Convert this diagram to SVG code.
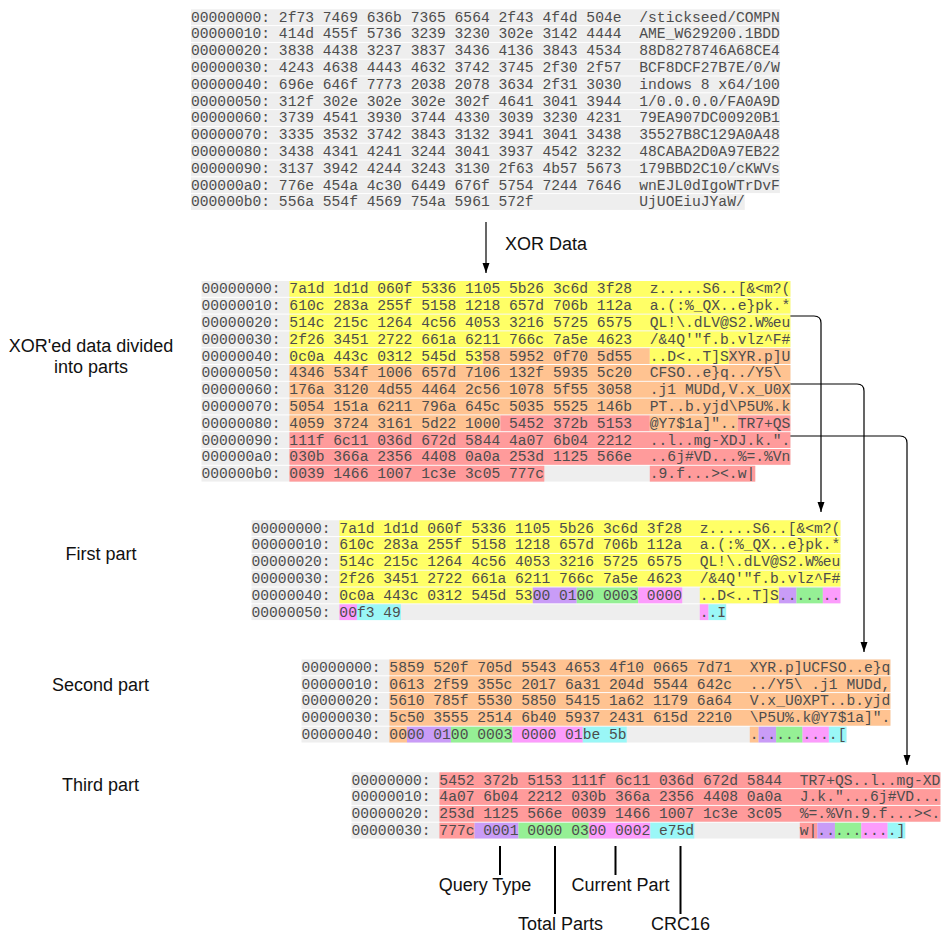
<svg xmlns="http://www.w3.org/2000/svg" width="951" height="937" viewBox="0 0 951 937">
<style>
.hx{font-family:"Liberation Mono","DejaVu Sans Mono",monospace;font-size:14.65px;fill:#4d4d4d}
.lb{font-family:"Liberation Sans",Arial,sans-serif;font-size:18px;fill:#111}
.gy{fill:#eeeeee}.y{fill:#ffff66}.o{fill:#ffc391}.r{fill:#ff9b9b}.p{fill:#c99cf7}.g{fill:#95f095}.k{fill:#fc9cfc}.c{fill:#9af7f7}
.cn{fill:none;stroke:#000;stroke-width:1.2}
.tk{fill:none;stroke:#000;stroke-width:2}
</style>
<defs>
<marker id="ah" viewBox="0 0 10 10" refX="10" refY="5" markerWidth="10" markerHeight="10" markerUnits="userSpaceOnUse" orient="auto">
<path d="M0,1.5 L10,5 L0,8.5 z" fill="#000"/>
</marker>
</defs>
<rect width="951" height="937" fill="#ffffff"/>

<g id="dump-original" transform="translate(191,9.3)">
<rect class="gy" x="0" y="0" width="588.93" height="15.8"/>
<rect class="gy" x="0" y="16.8" width="588.93" height="15.8"/>
<rect class="gy" x="0" y="33.6" width="588.93" height="15.8"/>
<rect class="gy" x="0" y="50.4" width="588.93" height="15.8"/>
<rect class="gy" x="0" y="67.2" width="588.93" height="15.8"/>
<rect class="gy" x="0" y="84" width="588.93" height="15.8"/>
<rect class="gy" x="0" y="100.8" width="588.93" height="15.8"/>
<rect class="gy" x="0" y="117.6" width="588.93" height="15.8"/>
<rect class="gy" x="0" y="134.4" width="588.93" height="15.8"/>
<rect class="gy" x="0" y="151.2" width="588.93" height="15.8"/>
<rect class="gy" x="0" y="168" width="588.93" height="15.8"/>
<rect class="gy" x="0" y="184.8" width="553.77" height="15.8"/>
<text class="hx" y="12.3"><tspan x="0">00000000: 2f73 7469 636b 7365 6564 2f43 4f4d 504e</tspan><tspan x="448.29">/stickseed/COMPN</tspan></text>
<text class="hx" y="29.1"><tspan x="0">00000010: 414d 455f 5736 3239 3230 302e 3142 4444</tspan><tspan x="448.29">AME_W629200.1BDD</tspan></text>
<text class="hx" y="45.9"><tspan x="0">00000020: 3838 4438 3237 3837 3436 4136 3843 4534</tspan><tspan x="448.29">88D8278746A68CE4</tspan></text>
<text class="hx" y="62.7"><tspan x="0">00000030: 4243 4638 4443 4632 3742 3745 2f30 2f57</tspan><tspan x="448.29">BCF8DCF27B7E/0/W</tspan></text>
<text class="hx" y="79.5"><tspan x="0">00000040: 696e 646f 7773 2038 2078 3634 2f31 3030</tspan><tspan x="448.29" xml:space="preserve">indows 8 x64/100</tspan></text>
<text class="hx" y="96.3"><tspan x="0">00000050: 312f 302e 302e 302e 302f 4641 3041 3944</tspan><tspan x="448.29">1/0.0.0.0/FA0A9D</tspan></text>
<text class="hx" y="113.1"><tspan x="0">00000060: 3739 4541 3930 3744 4330 3039 3230 4231</tspan><tspan x="448.29">79EA907DC00920B1</tspan></text>
<text class="hx" y="129.9"><tspan x="0">00000070: 3335 3532 3742 3843 3132 3941 3041 3438</tspan><tspan x="448.29">35527B8C129A0A48</tspan></text>
<text class="hx" y="146.7"><tspan x="0">00000080: 3438 4341 4241 3244 3041 3937 4542 3232</tspan><tspan x="448.29">48CABA2D0A97EB22</tspan></text>
<text class="hx" y="163.5"><tspan x="0">00000090: 3137 3942 4244 3243 3130 2f63 4b57 5673</tspan><tspan x="448.29">179BBD2C10/cKWVs</tspan></text>
<text class="hx" y="180.3"><tspan x="0">000000a0: 776e 454a 4c30 6449 676f 5754 7244 7646</tspan><tspan x="448.29">wnEJL0dIgoWTrDvF</tspan></text>
<text class="hx" y="197.1"><tspan x="0">000000b0: 556a 554f 4569 754a 5961 572f</tspan><tspan x="448.29">UjUOEiuJYaW/</tspan></text>
</g>

<g id="dump-xored" transform="translate(201.5,281)">
<rect class="gy" x="0" y="0" width="588.93" height="15.8"/>
<rect class="gy" x="0" y="16.8" width="588.93" height="15.8"/>
<rect class="gy" x="0" y="33.6" width="588.93" height="15.8"/>
<rect class="gy" x="0" y="50.4" width="588.93" height="15.8"/>
<rect class="gy" x="0" y="67.2" width="588.93" height="15.8"/>
<rect class="gy" x="0" y="84" width="588.93" height="15.8"/>
<rect class="gy" x="0" y="100.8" width="588.93" height="15.8"/>
<rect class="gy" x="0" y="117.6" width="588.93" height="15.8"/>
<rect class="gy" x="0" y="134.4" width="588.93" height="15.8"/>
<rect class="gy" x="0" y="151.2" width="588.93" height="15.8"/>
<rect class="gy" x="0" y="168" width="588.93" height="15.8"/>
<rect class="gy" x="0" y="184.8" width="553.77" height="15.8"/>
<rect class="y" x="87.9" y="0" width="501.03" height="15.8"/>
<rect class="y" x="87.9" y="16.8" width="501.03" height="15.8"/>
<rect class="y" x="87.9" y="33.6" width="501.03" height="15.8"/>
<rect class="y" x="87.9" y="50.4" width="501.03" height="15.8"/>
<rect class="y" x="87.9" y="67.2" width="193.38" height="15.8"/>
<rect class="o" x="281.28" y="67.2" width="167.01" height="15.8"/>
<rect class="y" x="448.29" y="67.2" width="79.11" height="15.8"/>
<rect class="o" x="527.4" y="67.2" width="61.53" height="15.8"/>
<rect class="o" x="87.9" y="84" width="501.03" height="15.8"/>
<rect class="o" x="87.9" y="100.8" width="501.03" height="15.8"/>
<rect class="o" x="87.9" y="117.6" width="501.03" height="15.8"/>
<rect class="o" x="87.9" y="134.4" width="210.96" height="15.8"/>
<rect class="r" x="298.86" y="134.4" width="149.43" height="15.8"/>
<rect class="o" x="448.29" y="134.4" width="87.9" height="15.8"/>
<rect class="r" x="536.19" y="134.4" width="52.74" height="15.8"/>
<rect class="r" x="87.9" y="151.2" width="501.03" height="15.8"/>
<rect class="r" x="87.9" y="168" width="501.03" height="15.8"/>
<rect class="r" x="87.9" y="184.8" width="254.91" height="15.8"/>
<rect class="r" x="448.29" y="184.8" width="105.48" height="15.8"/>
<text class="hx" y="12.3"><tspan x="0">00000000: 7a1d 1d1d 060f 5336 1105 5b26 3c6d 3f28</tspan><tspan x="448.29">z.....S6..[&amp;&lt;m?(</tspan></text>
<text class="hx" y="29.1"><tspan x="0">00000010: 610c 283a 255f 5158 1218 657d 706b 112a</tspan><tspan x="448.29">a.(:%_QX..e}pk.*</tspan></text>
<text class="hx" y="45.9"><tspan x="0">00000020: 514c 215c 1264 4c56 4053 3216 5725 6575</tspan><tspan x="448.29">QL!\.dLV@S2.W%eu</tspan></text>
<text class="hx" y="62.7"><tspan x="0">00000030: 2f26 3451 2722 661a 6211 766c 7a5e 4623</tspan><tspan x="448.29">/&amp;4Q'"f.b.vlz^F#</tspan></text>
<text class="hx" y="79.5"><tspan x="0">00000040: 0c0a 443c 0312 545d 5358 5952 0f70 5d55</tspan><tspan x="448.29">..D&lt;..T]SXYR.p]U</tspan></text>
<text class="hx" y="96.3"><tspan x="0">00000050: 4346 534f 1006 657d 7106 132f 5935 5c20</tspan><tspan x="448.29">CFSO..e}q../Y5\</tspan></text>
<text class="hx" y="113.1"><tspan x="0">00000060: 176a 3120 4d55 4464 2c56 1078 5f55 3058</tspan><tspan x="448.29">.j1 MUDd,V.x_U0X</tspan></text>
<text class="hx" y="129.9"><tspan x="0">00000070: 5054 151a 6211 796a 645c 5035 5525 146b</tspan><tspan x="448.29">PT..b.yjd\P5U%.k</tspan></text>
<text class="hx" y="146.7"><tspan x="0">00000080: 4059 3724 3161 5d22 1000 5452 372b 5153</tspan><tspan x="448.29">@Y7$1a]"..TR7+QS</tspan></text>
<text class="hx" y="163.5"><tspan x="0">00000090: 111f 6c11 036d 672d 5844 4a07 6b04 2212</tspan><tspan x="448.29">..l..mg-XDJ.k.".</tspan></text>
<text class="hx" y="180.3"><tspan x="0">000000a0: 030b 366a 2356 4408 0a0a 253d 1125 566e</tspan><tspan x="448.29">..6j#VD...%=.%Vn</tspan></text>
<text class="hx" y="197.1"><tspan x="0">000000b0: 0039 1466 1007 1c3e 3c05 777c</tspan><tspan x="448.29">.9.f...&gt;&lt;.w|</tspan></text>
</g>

<g id="part-1" transform="translate(251.5,520.3)">
<rect class="gy" x="0" y="0" width="588.93" height="15.8"/>
<rect class="gy" x="0" y="16.8" width="588.93" height="15.8"/>
<rect class="gy" x="0" y="33.6" width="588.93" height="15.8"/>
<rect class="gy" x="0" y="50.4" width="588.93" height="15.8"/>
<rect class="gy" x="0" y="67.2" width="588.93" height="15.8"/>
<rect class="gy" x="0" y="84" width="474.66" height="15.8"/>
<rect class="y" x="87.9" y="0" width="501.03" height="15.8"/>
<rect class="y" x="87.9" y="16.8" width="501.03" height="15.8"/>
<rect class="y" x="87.9" y="33.6" width="501.03" height="15.8"/>
<rect class="y" x="87.9" y="50.4" width="501.03" height="15.8"/>
<rect class="y" x="87.9" y="67.2" width="193.38" height="15.8"/>
<rect class="p" x="281.28" y="67.2" width="43.95" height="15.8"/>
<rect class="g" x="325.23" y="67.2" width="61.53" height="15.8"/>
<rect class="k" x="386.76" y="67.2" width="43.95" height="15.8"/>
<rect class="y" x="448.29" y="67.2" width="79.11" height="15.8"/>
<rect class="p" x="527.4" y="67.2" width="17.58" height="15.8"/>
<rect class="g" x="544.98" y="67.2" width="26.37" height="15.8"/>
<rect class="k" x="571.35" y="67.2" width="17.58" height="15.8"/>
<rect class="k" x="87.9" y="84" width="17.58" height="15.8"/>
<rect class="c" x="105.48" y="84" width="43.95" height="15.8"/>
<rect class="k" x="448.29" y="84" width="8.79" height="15.8"/>
<rect class="c" x="457.08" y="84" width="17.58" height="15.8"/>
<text class="hx" y="12.3"><tspan x="0">00000000: 7a1d 1d1d 060f 5336 1105 5b26 3c6d 3f28</tspan><tspan x="448.29">z.....S6..[&amp;&lt;m?(</tspan></text>
<text class="hx" y="29.1"><tspan x="0">00000010: 610c 283a 255f 5158 1218 657d 706b 112a</tspan><tspan x="448.29">a.(:%_QX..e}pk.*</tspan></text>
<text class="hx" y="45.9"><tspan x="0">00000020: 514c 215c 1264 4c56 4053 3216 5725 6575</tspan><tspan x="448.29">QL!\.dLV@S2.W%eu</tspan></text>
<text class="hx" y="62.7"><tspan x="0">00000030: 2f26 3451 2722 661a 6211 766c 7a5e 4623</tspan><tspan x="448.29">/&amp;4Q'"f.b.vlz^F#</tspan></text>
<text class="hx" y="79.5"><tspan x="0">00000040: 0c0a 443c 0312 545d 5300 0100 0003 0000</tspan><tspan x="448.29">..D&lt;..T]S.......</tspan></text>
<text class="hx" y="96.3"><tspan x="0">00000050: 00f3 49</tspan><tspan x="448.29">..I</tspan></text>
</g>

<g id="part-2" transform="translate(301.5,659.5)">
<rect class="gy" x="0" y="0" width="588.93" height="15.8"/>
<rect class="gy" x="0" y="16.8" width="588.93" height="15.8"/>
<rect class="gy" x="0" y="33.6" width="588.93" height="15.8"/>
<rect class="gy" x="0" y="50.4" width="588.93" height="15.8"/>
<rect class="gy" x="0" y="67.2" width="544.98" height="15.8"/>
<rect class="o" x="87.9" y="0" width="501.03" height="15.8"/>
<rect class="o" x="87.9" y="16.8" width="501.03" height="15.8"/>
<rect class="o" x="87.9" y="33.6" width="501.03" height="15.8"/>
<rect class="o" x="87.9" y="50.4" width="501.03" height="15.8"/>
<rect class="o" x="87.9" y="67.2" width="17.58" height="15.8"/>
<rect class="p" x="105.48" y="67.2" width="43.95" height="15.8"/>
<rect class="g" x="149.43" y="67.2" width="61.53" height="15.8"/>
<rect class="k" x="210.96" y="67.2" width="70.32" height="15.8"/>
<rect class="c" x="281.28" y="67.2" width="43.95" height="15.8"/>
<rect class="o" x="448.29" y="67.2" width="8.79" height="15.8"/>
<rect class="p" x="457.08" y="67.2" width="17.58" height="15.8"/>
<rect class="g" x="474.66" y="67.2" width="26.37" height="15.8"/>
<rect class="k" x="501.03" y="67.2" width="26.37" height="15.8"/>
<rect class="c" x="527.4" y="67.2" width="17.58" height="15.8"/>
<text class="hx" y="12.3"><tspan x="0">00000000: 5859 520f 705d 5543 4653 4f10 0665 7d71</tspan><tspan x="448.29">XYR.p]UCFSO..e}q</tspan></text>
<text class="hx" y="29.1"><tspan x="0">00000010: 0613 2f59 355c 2017 6a31 204d 5544 642c</tspan><tspan x="448.29">../Y5\ .j1 MUDd,</tspan></text>
<text class="hx" y="45.9"><tspan x="0">00000020: 5610 785f 5530 5850 5415 1a62 1179 6a64</tspan><tspan x="448.29">V.x_U0XPT..b.yjd</tspan></text>
<text class="hx" y="62.7"><tspan x="0">00000030: 5c50 3555 2514 6b40 5937 2431 615d 2210</tspan><tspan x="448.29">\P5U%.k@Y7$1a]".</tspan></text>
<text class="hx" y="79.5"><tspan x="0">00000040: 0000 0100 0003 0000 01be 5b</tspan><tspan x="448.29">..........[</tspan></text>
</g>

<g id="part-3" transform="translate(351.5,772.3)">
<rect class="gy" x="0" y="0" width="588.93" height="15.8"/>
<rect class="gy" x="0" y="16.8" width="588.93" height="15.8"/>
<rect class="gy" x="0" y="33.6" width="588.93" height="15.8"/>
<rect class="gy" x="0" y="50.4" width="553.77" height="15.8"/>
<rect class="r" x="87.9" y="0" width="501.03" height="15.8"/>
<rect class="r" x="87.9" y="16.8" width="501.03" height="15.8"/>
<rect class="r" x="87.9" y="33.6" width="501.03" height="15.8"/>
<rect class="r" x="87.9" y="50.4" width="35.16" height="15.8"/>
<rect class="p" x="123.06" y="50.4" width="43.95" height="15.8"/>
<rect class="g" x="167.01" y="50.4" width="70.32" height="15.8"/>
<rect class="k" x="237.33" y="50.4" width="61.53" height="15.8"/>
<rect class="c" x="298.86" y="50.4" width="43.95" height="15.8"/>
<rect class="r" x="448.29" y="50.4" width="17.58" height="15.8"/>
<rect class="p" x="465.87" y="50.4" width="17.58" height="15.8"/>
<rect class="g" x="483.45" y="50.4" width="26.37" height="15.8"/>
<rect class="k" x="509.82" y="50.4" width="26.37" height="15.8"/>
<rect class="c" x="536.19" y="50.4" width="17.58" height="15.8"/>
<text class="hx" y="12.3"><tspan x="0">00000000: 5452 372b 5153 111f 6c11 036d 672d 5844</tspan><tspan x="448.29">TR7+QS..l..mg-XD</tspan></text>
<text class="hx" y="29.1"><tspan x="0">00000010: 4a07 6b04 2212 030b 366a 2356 4408 0a0a</tspan><tspan x="448.29">J.k."...6j#VD...</tspan></text>
<text class="hx" y="45.9"><tspan x="0">00000020: 253d 1125 566e 0039 1466 1007 1c3e 3c05</tspan><tspan x="448.29">%=.%Vn.9.f...&gt;&lt;.</tspan></text>
<text class="hx" y="62.7"><tspan x="0">00000030: 777c 0001 0000 0300 0002 e75d</tspan><tspan x="448.29">w|.........]</tspan></text>
</g>

<g id="labels">
<text class="lb" x="505" y="250">XOR Data</text>
<text class="lb" x="91" y="352" text-anchor="middle">XOR'ed data divided</text>
<text class="lb" x="91" y="373" text-anchor="middle">into parts</text>
<text class="lb" x="101" y="560" text-anchor="middle">First part</text>
<text class="lb" x="100.5" y="691" text-anchor="middle">Second part</text>
<text class="lb" x="100.5" y="791" text-anchor="middle">Third part</text>
<text class="lb" x="485" y="891" text-anchor="middle">Query Type</text>
<text class="lb" x="620.5" y="891" text-anchor="middle">Current Part</text>
<text class="lb" x="560.5" y="930" text-anchor="middle">Total Parts</text>
<text class="lb" x="680.5" y="930" text-anchor="middle">CRC16</text>
</g>

<g id="connectors">
<line class="cn" x1="486" y1="222" x2="486" y2="273" marker-end="url(#ah)"/>
<path class="cn" d="M790.4,316 H814 Q821,316 821,323 V512" marker-end="url(#ah)"/>
<path class="cn" d="M790.4,384 H857 Q864,384 864,391 V652" marker-end="url(#ah)"/>
<path class="cn" d="M790.4,436 H900 Q907,436 907,443 V765" marker-end="url(#ah)"/>
<line class="tk" x1="500" y1="846" x2="500" y2="875"/>
<line class="tk" x1="555" y1="846" x2="555" y2="914"/>
<line class="tk" x1="615.5" y1="846" x2="615.5" y2="875"/>
<line class="tk" x1="680.5" y1="846" x2="680.5" y2="914"/>
</g>
</svg>
